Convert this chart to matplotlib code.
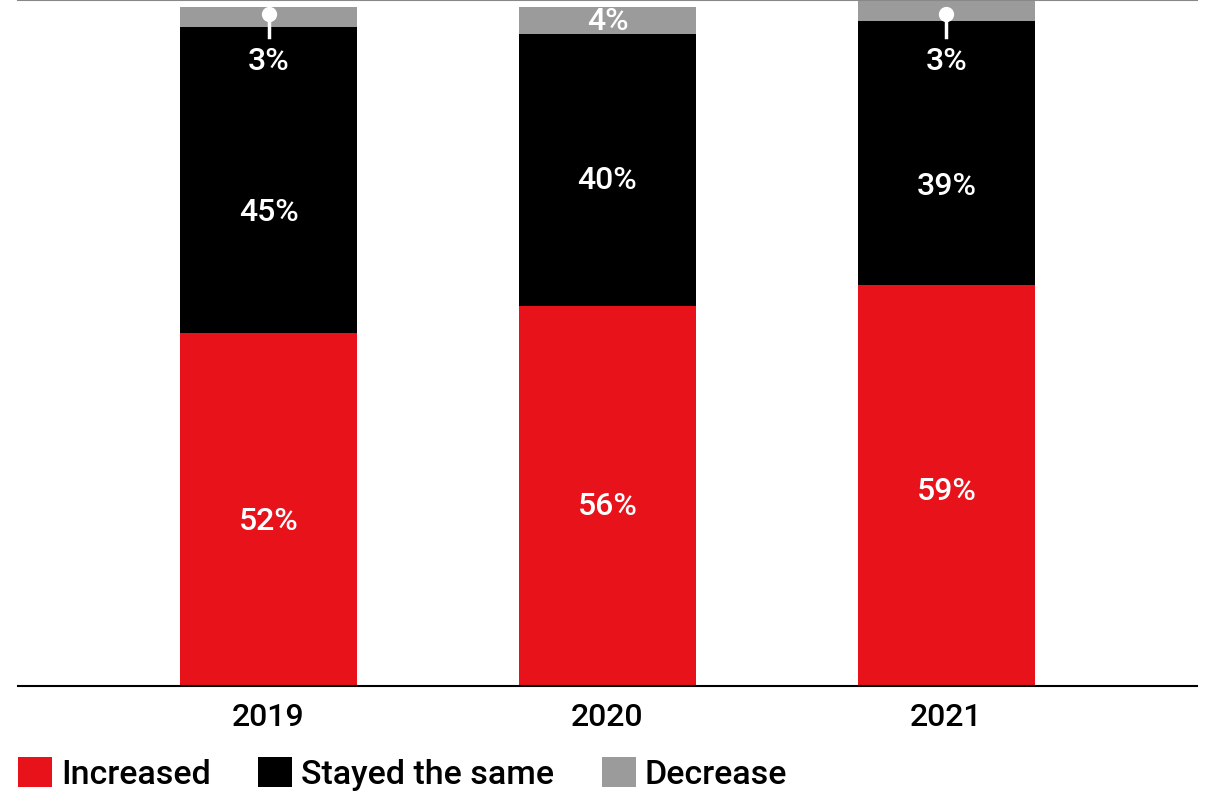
import matplotlib
matplotlib.use("Agg")
import matplotlib.pyplot as plt
import numpy as np

years = ["2019", "2020", "2021"]
increased = [52, 56, 59]
stayed = [45, 40, 39]
decrease = [3, 4, 3]

# label heights (data units) as placed in the original
lab_inc_y = [24.3, 26.4, 28.7]
lab_same_y = [69.8, 74.4, 73.5]
lab_dec_y = [91.9, 97.8, 91.9]

RED = "#e8121a"
BLACK = "#000000"
GREY = "#9b9b9b"

plt.rcParams["font.family"] = ["Roboto", "DejaVu Sans"]

fig = plt.figure(figsize=(12.06, 7.94), dpi=100)
ax = fig.add_axes([18 / 1206, 108 / 794, 1179 / 1206, 686 / 794])

x = np.arange(len(years))
w = 0.522
inc = np.array(increased)
st = np.array(stayed)
de = np.array(decrease)

ax.bar(x, inc, w, color=RED, label="Increased")
ax.bar(x, st, w, bottom=inc, color=BLACK, label="Stayed the same")
ax.bar(x, de, w, bottom=inc + st, color=GREY, label="Decrease")

for i in range(len(years)):
    ax.text(x[i], lab_inc_y[i], f"{increased[i]}%", color="white", ha="center",
            va="center", fontsize=23, fontweight="medium")
    ax.text(x[i], lab_same_y[i], f"{stayed[i]}%", color="white", ha="center",
            va="center", fontsize=23, fontweight="medium")
    ax.text(x[i], lab_dec_y[i], f"{decrease[i]}%", color="white", ha="center",
            va="center", fontsize=23, fontweight="medium")
    if decrease[i] < 4:
        top = 98.9
        ax.plot([x[i], x[i]], [top, top - 3.3], color="white", lw=2.5, clip_on=False)
        ax.plot(x[i], top, "o", color="white", ms=10, mec="white", clip_on=False)

ax.set_xlim(-0.739, 2.739)
ax.set_ylim(0, 101.03)
ax.set_xticks(x)
ax.set_xticklabels(years, fontsize=23, fontweight="medium")
ax.tick_params(axis="x", length=0, pad=12)
ax.set_yticks([])
for s in ["left", "right"]:
    ax.spines[s].set_visible(False)
ax.spines["bottom"].set_linewidth(1.5)
ax.spines["top"].set_color("#888888")
ax.spines["top"].set_linewidth(1.5)

fig.legend(loc="lower left", bbox_to_anchor=(0.004, -0.013), ncol=3, frameon=False,
           handlelength=1.0, handleheight=1.0, handletextpad=0.25,
           columnspacing=1.4, borderaxespad=0,
           prop={"size": 24.5, "weight": "medium"})

fig.savefig("out.png", dpi=100)
